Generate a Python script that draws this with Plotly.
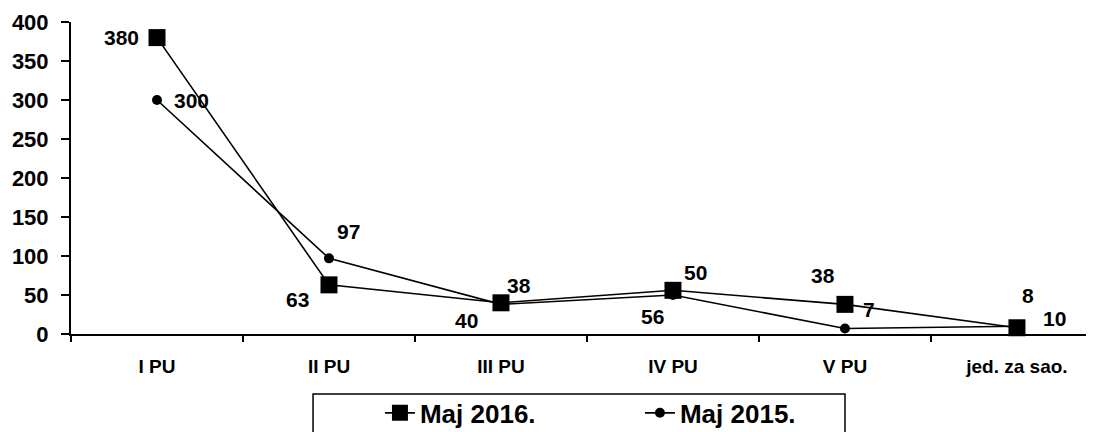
import plotly.graph_objects as go

categories = ["I PU", "II PU", "III PU", "IV PU", "V PU", "jed. za sao."]
maj_2016 = [380, 63, 40, 56, 38, 8]
maj_2015 = [300, 97, 38, 50, 7, 10]

# label offsets in pixels (dx, dy up) relative to each point
off_2016 = [(-36, 0), (-31, -15), (-34, -18), (-20, -26), (-22, 29), (11, 32)]
off_2015 = [(34, 0), (20, 27), (18, 19), (23, 23), (24, 19), (38, 8)]

FONT = "Arial, Liberation Sans, sans-serif"

fig = go.Figure()
fig.add_trace(go.Scatter(
    x=categories, y=maj_2016, name="Maj 2016.", mode="lines+markers",
    line=dict(color="black", width=1.6),
    marker=dict(symbol="square", size=17, color="black"),
    cliponaxis=False,
))
fig.add_trace(go.Scatter(
    x=categories, y=maj_2015, name="Maj 2015.", mode="lines+markers",
    line=dict(color="black", width=1.6),
    marker=dict(symbol="circle", size=10, color="black"),
    cliponaxis=False,
))

for vals, offs in ((maj_2016, off_2016), (maj_2015, off_2015)):
    for c, v, (dx, dy) in zip(categories, vals, offs):
        fig.add_annotation(
            x=c, y=v, xref="x", yref="y", text=str(v), showarrow=False,
            xshift=dx, yshift=dy, xanchor="center", yanchor="middle",
            font=dict(family=FONT, size=21, color="black", weight="bold"),
        )

# legend frame
fig.add_shape(type="rect", xref="paper", yref="paper",
              x0=0.2366, x1=0.7566, y0=-0.1923, y1=-0.36,
              line=dict(color="black", width=1.5), fillcolor="rgba(0,0,0,0)")

fig.update_layout(
    width=1086, height=424,
    margin=dict(l=63, r=0, t=14, b=98, autoexpand=False),
    paper_bgcolor="white", plot_bgcolor="white",
    font=dict(family=FONT, color="black"),
    showlegend=True,
    legend=dict(
        orientation="h", x=0.302, xanchor="left", y=-0.253, yanchor="middle",
        borderwidth=0, bgcolor="rgba(0,0,0,0)",
        font=dict(family=FONT, size=26, color="black", weight="bold"),
        entrywidth=215, traceorder="normal",
    ),
    xaxis=dict(
        type="category", range=[-0.5, 5.448],
        showline=True, linecolor="black", linewidth=2,
        ticks="outside", tickson="boundaries", ticklen=6, tickcolor="black", tickwidth=1.5,
        showgrid=False, zeroline=False,
        tickfont=dict(family=FONT, size=19, color="black", weight="bold"),
        ticklabelstandoff=14,
    ),
    yaxis=dict(
        range=[0, 400], dtick=50, tick0=0,
        showline=True, linecolor="black", linewidth=2,
        ticks="outside", ticklen=8, tickcolor="black", tickwidth=1.5,
        showgrid=False, zeroline=False,
        tickfont=dict(family=FONT, size=22, color="black", weight="bold"),
        ticklabelstandoff=8,
    ),
)

fig.write_html("out.html")
